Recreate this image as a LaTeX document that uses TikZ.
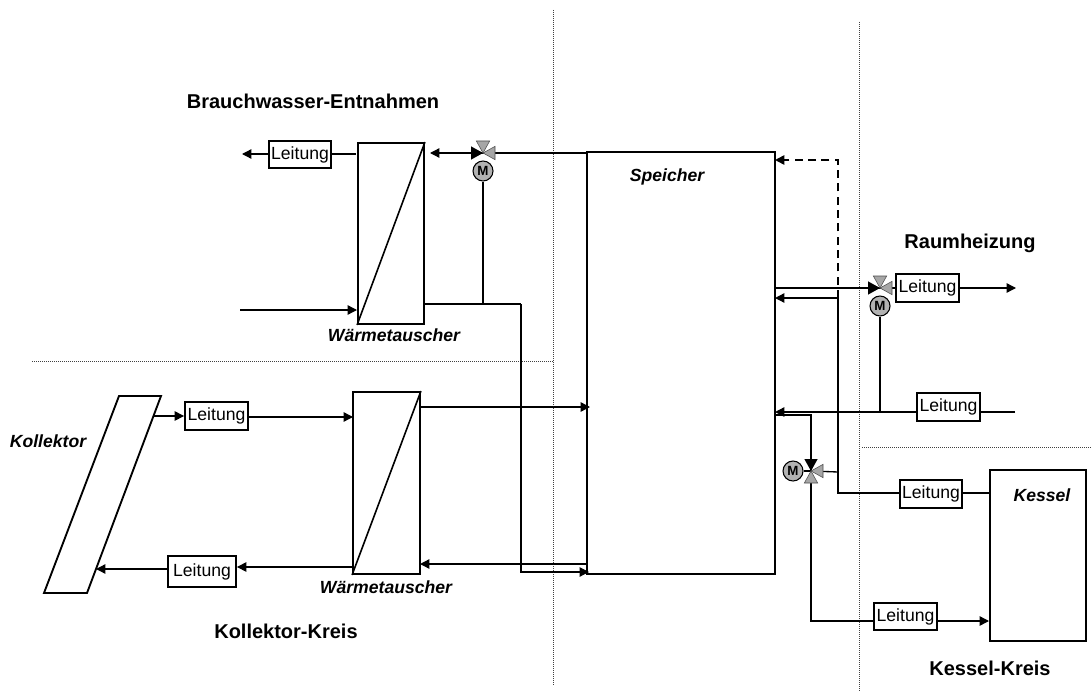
\documentclass[tikz,border=0pt]{standalone}
\usepackage{fontspec}
\setmainfont{Liberation Sans}
\usetikzlibrary{arrows.meta}
\newcommand{\px}{0.75pt}
\newcommand{\valve}[2]{%
  \begin{scope}[shift={(#1)},rotate=#2]
    \fill (0,0) -- (9pt,5pt) -- (9pt,-5pt) -- cycle;
    \filldraw[fill=black!35,draw=black!70,line width=0.4pt,rotate=-90] (0,0) -- (9pt,5pt) -- (9pt,-5pt) -- cycle;
    \filldraw[fill=black!35,draw=black!70,line width=0.4pt,rotate=-180] (0,0) -- (9pt,5pt) -- (9pt,-5pt) -- cycle;
  \end{scope}}
\begin{document}
\begin{tikzpicture}[
  x=0.75pt, y=-0.75pt,
  font=\fontsize{13.2pt}{15pt}\selectfont,
  line width=1pt,
  ltg/.style={draw, line width=1.4pt, inner sep=0pt, minimum width=62*\px, minimum height=27*\px},
  box/.style={draw, line width=1.4pt, inner sep=0pt},
  mot/.style={circle, draw, line width=0.8pt, fill=black!30, inner sep=0pt, minimum size=20*\px,
    font=\fontsize{10pt}{11pt}\selectfont\bfseries},
  head/.style={font=\fontsize{15pt}{17pt}\selectfont\bfseries},
  lbl/.style={font=\fontsize{13.2pt}{15pt}\selectfont\bfseries\itshape},
  sep/.style={line width=0.5pt, black!75, densely dotted},
  pipe/.style={-{Triangle[length=7pt,width=7pt]}},
]
\useasboundingbox (0,0) rectangle (1091,695);
% zones
\coordinate (sa) at (553,10);
\coordinate (sb) at (553,686);
\coordinate (sc) at (32,361);
\coordinate (sd) at (553,361);
\coordinate (se) at (859,22);
\coordinate (sf) at (859,692);
\coordinate (sg) at (862,447);
\coordinate (sh) at (1091,447);
\draw[sep] (sa) -- (sb);
\draw[sep] (sc) -- (sd);
\draw[sep] (se) -- (sf);
\draw[sep] (sg) -- (sh);
% components
\node[box, minimum width=188*\px, minimum height=422*\px] (spk) at (681,363) {};
\node[box, minimum width=96*\px, minimum height=171*\px] (kes) at (1038,555.5) {};
\node[box, minimum width=66*\px, minimum height=181*\px] (wta) at (391,233.5) {};
\node[box, minimum width=67*\px, minimum height=182*\px] (wtb) at (386.5,483) {};
\draw[line width=1.2pt] (wta.south west) -- (wta.north east);
\draw[line width=1.2pt] (wtb.south west) -- (wtb.north east);
\coordinate (kolA) at (119,396);
\coordinate (kolB) at (161,396);
\coordinate (kolC) at (87,593);
\coordinate (kolD) at (44,593);
\draw[line width=1.4pt] (kolA) -- (kolB) -- (kolC) -- (kolD) -- cycle;
\node[ltg] (lta) at (300,154.5) {Leitung};
\node[ltg, minimum width=63*\px, minimum height=28*\px] (ltb) at (216.5,416) {Leitung};
\node[ltg, minimum width=68*\px, minimum height=31*\px] (ltc) at (202,571.5) {Leitung};
\node[ltg, minimum width=63*\px, minimum height=28*\px] (ltd) at (927.5,288) {Leitung};
\node[ltg, minimum width=63*\px, minimum height=28*\px] (lte) at (948.5,407) {Leitung};
\node[ltg, minimum width=62*\px, minimum height=28*\px] (ltf) at (931,494) {Leitung};
\node[ltg, minimum width=63*\px, minimum height=27*\px] (ltg) at (905.5,616.5) {Leitung};
\coordinate (va) at (483,153);
\coordinate (vb) at (880,288);
\coordinate (vc) at (811,471);
\node[mot] (ma) at (483,171) {M};
\node[mot] (mb) at (880,306) {M};
\node[mot] (mc) at (793,471) {M};
% Brauchwasser
\coordinate (a1) at (242,154);
\coordinate (a2) at (356,154);
\coordinate (a3) at (430,153);
\coordinate (a4) at (240,310);
\coordinate (a5) at (357,310);
\coordinate (a6) at (424,304);
\coordinate (a7) at (483,304);
\coordinate (a8) at (521,304);
\coordinate (a9) at (589,572);
\draw[pipe] (lta.west |- a1) -- (a1);
\draw (a2) -- (lta.east |- a2);
\draw[pipe] (a4) -- (a5);
\draw[pipe] (va) -- (a3);
\draw (va) -- (va -| spk.west);
\draw (ma) -- (a7);
\draw[line width=0.8pt] (a6) -- (a8);
\draw[line width=0.8pt, pipe] (a8) |- (a9);
% Kollektor
\coordinate (b1) at (154,416);
\coordinate (b2) at (353,417);
\coordinate (b3) at (420,407);
\coordinate (b4) at (590,407);
\coordinate (b5) at (587,564);
\coordinate (b6) at (420,564);
\coordinate (b7) at (353,567);
\coordinate (b8) at (96,569);
\draw[pipe] (b1) -- (ltb.west);
\draw[pipe] (ltb.east |- b2) -- (b2);
\draw[pipe] (b3) -- (b4);
\draw[pipe] (b5) -- (b6);
\draw[pipe] (b7) -- (ltc.east |- b7);
\draw[pipe] (ltc.west |- b8) -- (b8);
% Raumheizung
\coordinate (c1) at (775,288);
\coordinate (c2) at (1016,288);
\coordinate (c3) at (1015,412);
\coordinate (c4) at (775,412);
\coordinate (c5) at (880,412);
\draw (c1) -- (vb);
\draw (vb) -- (ltd.west);
\draw[pipe] (ltd.east) -- (c2);
\draw (c3) -- (lte.east |- c3);
\draw[pipe] (lte.west |- c3) -- (c4);
\draw (mb) -- (c5);
% Kessel
\coordinate (d1) at (838,160);
\coordinate (d2) at (775,160);
\coordinate (d3) at (838,298);
\coordinate (d4) at (775,298);
\coordinate (d5) at (838,493);
\coordinate (d6) at (838,472);
\coordinate (d7) at (775,415);
\coordinate (d8) at (811,415);
\coordinate (d9) at (811,621);
\coordinate (d10) at (989,621);
\draw[dash pattern=on 6pt off 4pt, line width=1.2pt, -{Triangle[length=7pt,width=7pt]}] (d3) -- (d1) -- (d2);
\draw[pipe] (d3) -- (d4);
\draw (d3) -- (d5) -- (ltf.west |- d5);
\draw (ltf.east |- d5) -- (kes.west |- d5);
\draw (d6) -- (vc);
\draw (mc) -- (vc);
\draw[line width=0.8pt] (d7) -- (d8) -- (vc);
\draw (vc) -- (d9) -- (ltg.west |- d9);
\draw[pipe] (ltg.east |- d9) -- (d10);
% valves
\valve{va}{180}
\valve{vb}{180}
\valve{vc}{90}
% labels
\node[head] (h1) at (313,101) {Brauchwasser-Entnahmen};
\node[head] (h2) at (970,243) {Raumheizung};
\node[head] (h3) at (286,631) {Kollektor-Kreis};
\node[head] (h4) at (990,668) {Kessel-Kreis};
\node[lbl] (l1) at (394,335) {Wärmetauscher};
\node[lbl] (l2) at (386,587) {Wärmetauscher};
\node[lbl] (l3) at (48,441) {Kollektor};
\node[lbl] (l4) at (667,177) {Speicher};
\node[lbl] (l5) at (1042,495) {Kessel};
\end{tikzpicture}
\end{document}
